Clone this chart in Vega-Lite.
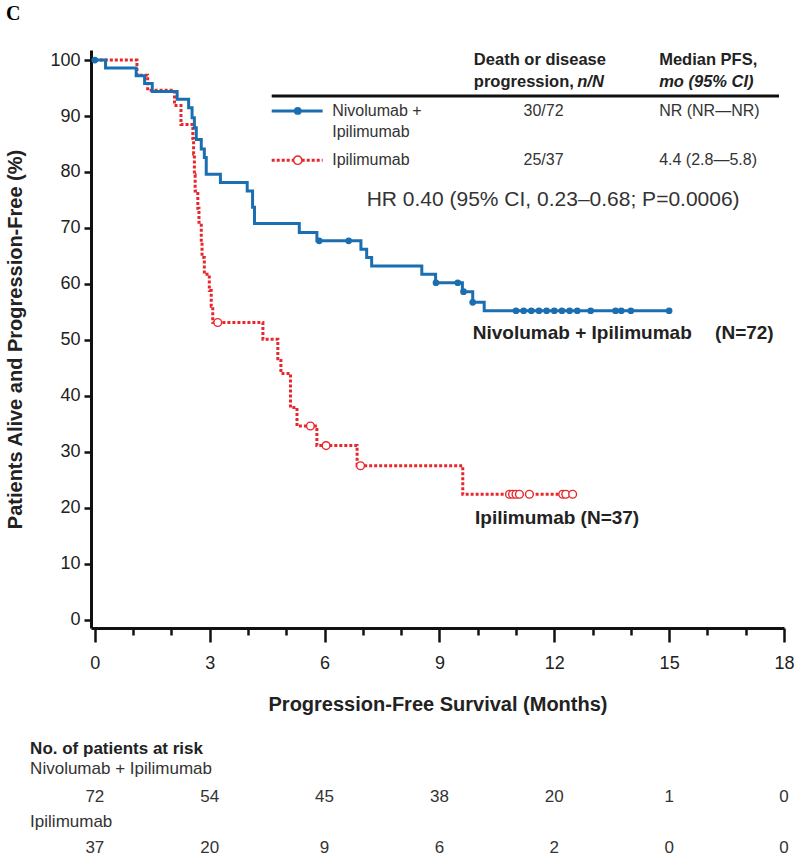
{
  "$schema": "https://vega.github.io/schema/vega-lite/v6.json",
  "background": "white",
  "padding": {"left": 5, "top": 4, "right": 2, "bottom": 2},
  "title": {"text": "C", "anchor": "start", "frame": "bounds", "font": "Liberation Serif", "fontSize": 20, "fontWeight": "bold", "color": "#000", "offset": 26},
  "config": {"view": {"stroke": null}, "font": "Liberation Sans"},
  "spacing": 26,
  "datasets": {
    "km": [
      {"arm": "Nivolumab + Ipilimumab", "t": 0, "s": 100},
      {"arm": "Nivolumab + Ipilimumab", "t": 0.28, "s": 98.6},
      {"arm": "Nivolumab + Ipilimumab", "t": 1.08, "s": 97.2},
      {"arm": "Nivolumab + Ipilimumab", "t": 1.30, "s": 95.8},
      {"arm": "Nivolumab + Ipilimumab", "t": 1.50, "s": 94.4},
      {"arm": "Nivolumab + Ipilimumab", "t": 2.15, "s": 93.0},
      {"arm": "Nivolumab + Ipilimumab", "t": 2.45, "s": 91.5},
      {"arm": "Nivolumab + Ipilimumab", "t": 2.54, "s": 89.7},
      {"arm": "Nivolumab + Ipilimumab", "t": 2.60, "s": 87.9},
      {"arm": "Nivolumab + Ipilimumab", "t": 2.65, "s": 85.8},
      {"arm": "Nivolumab + Ipilimumab", "t": 2.78, "s": 84.1},
      {"arm": "Nivolumab + Ipilimumab", "t": 2.86, "s": 82.6},
      {"arm": "Nivolumab + Ipilimumab", "t": 2.91, "s": 79.6},
      {"arm": "Nivolumab + Ipilimumab", "t": 3.28, "s": 78.1},
      {"arm": "Nivolumab + Ipilimumab", "t": 3.98, "s": 76.6},
      {"arm": "Nivolumab + Ipilimumab", "t": 4.12, "s": 73.7},
      {"arm": "Nivolumab + Ipilimumab", "t": 4.17, "s": 70.8},
      {"arm": "Nivolumab + Ipilimumab", "t": 5.34, "s": 69.2},
      {"arm": "Nivolumab + Ipilimumab", "t": 5.80, "s": 67.7},
      {"arm": "Nivolumab + Ipilimumab", "t": 6.95, "s": 66.2},
      {"arm": "Nivolumab + Ipilimumab", "t": 7.10, "s": 64.7},
      {"arm": "Nivolumab + Ipilimumab", "t": 7.23, "s": 63.2},
      {"arm": "Nivolumab + Ipilimumab", "t": 8.54, "s": 61.7},
      {"arm": "Nivolumab + Ipilimumab", "t": 8.90, "s": 60.2},
      {"arm": "Nivolumab + Ipilimumab", "t": 9.60, "s": 58.6},
      {"arm": "Nivolumab + Ipilimumab", "t": 9.87, "s": 56.7},
      {"arm": "Nivolumab + Ipilimumab", "t": 10.17, "s": 55.2},
      {"arm": "Nivolumab + Ipilimumab", "t": 15.0, "s": 55.2},
      {"arm": "Ipilimumab", "t": 0, "s": 100},
      {"arm": "Ipilimumab", "t": 1.10, "s": 97.3},
      {"arm": "Ipilimumab", "t": 1.38, "s": 94.6},
      {"arm": "Ipilimumab", "t": 2.08, "s": 91.9},
      {"arm": "Ipilimumab", "t": 2.25, "s": 88.5},
      {"arm": "Ipilimumab", "t": 2.56, "s": 86.0},
      {"arm": "Ipilimumab", "t": 2.58, "s": 83.2},
      {"arm": "Ipilimumab", "t": 2.60, "s": 79.5},
      {"arm": "Ipilimumab", "t": 2.62, "s": 76.6},
      {"arm": "Ipilimumab", "t": 2.69, "s": 73.5},
      {"arm": "Ipilimumab", "t": 2.72, "s": 71.0},
      {"arm": "Ipilimumab", "t": 2.78, "s": 67.5},
      {"arm": "Ipilimumab", "t": 2.80, "s": 64.7},
      {"arm": "Ipilimumab", "t": 2.86, "s": 61.7},
      {"arm": "Ipilimumab", "t": 2.99, "s": 58.8},
      {"arm": "Ipilimumab", "t": 3.04, "s": 56.0},
      {"arm": "Ipilimumab", "t": 3.08, "s": 53.1},
      {"arm": "Ipilimumab", "t": 4.39, "s": 50.1},
      {"arm": "Ipilimumab", "t": 4.78, "s": 46.6},
      {"arm": "Ipilimumab", "t": 4.86, "s": 44.0},
      {"arm": "Ipilimumab", "t": 5.11, "s": 37.9},
      {"arm": "Ipilimumab", "t": 5.28, "s": 34.6},
      {"arm": "Ipilimumab", "t": 5.80, "s": 31.1},
      {"arm": "Ipilimumab", "t": 6.85, "s": 27.5},
      {"arm": "Ipilimumab", "t": 9.61, "s": 22.4},
      {"arm": "Ipilimumab", "t": 12.48, "s": 22.4}
    ],
    "censor": [
      {"arm": "Nivolumab + Ipilimumab", "t": 0, "s": 100},
      {"arm": "Nivolumab + Ipilimumab", "t": 5.86, "s": 67.7},
      {"arm": "Nivolumab + Ipilimumab", "t": 6.63, "s": 67.7},
      {"arm": "Nivolumab + Ipilimumab", "t": 8.91, "s": 60.2},
      {"arm": "Nivolumab + Ipilimumab", "t": 9.48, "s": 60.2},
      {"arm": "Nivolumab + Ipilimumab", "t": 9.63, "s": 58.6},
      {"arm": "Nivolumab + Ipilimumab", "t": 9.87, "s": 56.7},
      {"arm": "Nivolumab + Ipilimumab", "t": 11.0, "s": 55.2},
      {"arm": "Nivolumab + Ipilimumab", "t": 11.2, "s": 55.2},
      {"arm": "Nivolumab + Ipilimumab", "t": 11.4, "s": 55.2},
      {"arm": "Nivolumab + Ipilimumab", "t": 11.6, "s": 55.2},
      {"arm": "Nivolumab + Ipilimumab", "t": 11.8, "s": 55.2},
      {"arm": "Nivolumab + Ipilimumab", "t": 12.0, "s": 55.2},
      {"arm": "Nivolumab + Ipilimumab", "t": 12.2, "s": 55.2},
      {"arm": "Nivolumab + Ipilimumab", "t": 12.4, "s": 55.2},
      {"arm": "Nivolumab + Ipilimumab", "t": 12.6, "s": 55.2},
      {"arm": "Nivolumab + Ipilimumab", "t": 12.95, "s": 55.2},
      {"arm": "Nivolumab + Ipilimumab", "t": 13.6, "s": 55.2},
      {"arm": "Nivolumab + Ipilimumab", "t": 13.75, "s": 55.2},
      {"arm": "Nivolumab + Ipilimumab", "t": 14.0, "s": 55.2},
      {"arm": "Nivolumab + Ipilimumab", "t": 15.0, "s": 55.2},
      {"arm": "Ipilimumab", "t": 3.21, "s": 53.1},
      {"arm": "Ipilimumab", "t": 5.63, "s": 34.6},
      {"arm": "Ipilimumab", "t": 6.04, "s": 31.1},
      {"arm": "Ipilimumab", "t": 6.94, "s": 27.5},
      {"arm": "Ipilimumab", "t": 10.83, "s": 22.4},
      {"arm": "Ipilimumab", "t": 10.91, "s": 22.4},
      {"arm": "Ipilimumab", "t": 11.0, "s": 22.4},
      {"arm": "Ipilimumab", "t": 11.09, "s": 22.4},
      {"arm": "Ipilimumab", "t": 11.35, "s": 22.4},
      {"arm": "Ipilimumab", "t": 12.22, "s": 22.4},
      {"arm": "Ipilimumab", "t": 12.3, "s": 22.4},
      {"arm": "Ipilimumab", "t": 12.48, "s": 22.4}
    ],
    "atrisk": [
      {"arm": "Nivolumab + Ipilimumab", "row": 1.94, "t": 0, "n": 72},
      {"arm": "Nivolumab + Ipilimumab", "row": 1.94, "t": 3, "n": 54},
      {"arm": "Nivolumab + Ipilimumab", "row": 1.94, "t": 6, "n": 45},
      {"arm": "Nivolumab + Ipilimumab", "row": 1.94, "t": 9, "n": 38},
      {"arm": "Nivolumab + Ipilimumab", "row": 1.94, "t": 12, "n": 20},
      {"arm": "Nivolumab + Ipilimumab", "row": 1.94, "t": 15, "n": 1},
      {"arm": "Nivolumab + Ipilimumab", "row": 1.94, "t": 18, "n": 0},
      {"arm": "Ipilimumab", "row": 4.0, "t": 0, "n": 37},
      {"arm": "Ipilimumab", "row": 4.0, "t": 3, "n": 20},
      {"arm": "Ipilimumab", "row": 4.0, "t": 6, "n": 9},
      {"arm": "Ipilimumab", "row": 4.0, "t": 9, "n": 6},
      {"arm": "Ipilimumab", "row": 4.0, "t": 12, "n": 2},
      {"arm": "Ipilimumab", "row": 4.0, "t": 15, "n": 0},
      {"arm": "Ipilimumab", "row": 4.0, "t": 18, "n": 0}
    ]
  },
  "vconcat": [
    {
      "width": 693,
      "height": 578,
      "encoding": {
        "x": {
          "field": "t", "type": "quantitative",
          "scale": {"domain": [-0.1, 18], "nice": false, "zero": false},
          "axis": {
            "title": "Progression-Free Survival (Months)",
            "values": [0,1,2,3,4,5,6,7,8,9,10,11,12,13,14,15,16,17,18],
            "labelExpr": "datum.value % 3 === 0 ? datum.label : ''",
            "labelOverlap": false,
            "labelFlush": false,
            "tickSize": {"condition": {"test": "datum.value % 3 === 0", "value": 14}, "value": 7},
            "tickWidth": 2.5, "tickColor": "#111",
            "domainColor": "#111", "domainWidth": 3,
            "labelFontSize": 18, "labelColor": "#222", "labelPadding": 12,
            "titleFontSize": 20, "titleFontWeight": "bold", "titleColor": "#222", "titlePadding": 22,
            "grid": false
          }
        },
        "y": {
          "field": "s", "type": "quantitative",
          "scale": {"domain": [-1.5, 101.8], "nice": false, "zero": false},
          "axis": {
            "title": "Patients Alive and Progression-Free (%)",
            "values": [0,10,20,30,40,50,60,70,80,90,100],
            "tickSize": 7, "tickWidth": 2.5, "tickColor": "#111",
            "domainColor": "#111", "domainWidth": 3,
            "labelFontSize": 18, "labelColor": "#222", "labelPadding": 4,
            "titleFontSize": 20, "titleFontWeight": "bold", "titleColor": "#222", "titlePadding": 24,
            "grid": false
          }
        }
      },
      "layer": [
        {
          "data": {"name": "km"},
          "transform": [{"filter": "datum.arm === 'Ipilimumab'"}],
          "mark": {"type": "line", "interpolate": "step-after", "color": "#e8262b", "strokeWidth": 3, "strokeDash": [3, 2]}
        },
        {
          "data": {"name": "km"},
          "transform": [{"filter": "datum.arm === 'Nivolumab + Ipilimumab'"}],
          "mark": {"type": "line", "interpolate": "step-after", "color": "#1b6fb0", "strokeWidth": 3}
        },
        {
          "data": {"name": "censor"},
          "transform": [{"filter": "datum.arm === 'Nivolumab + Ipilimumab'"}],
          "mark": {"type": "point", "shape": "circle", "filled": true, "color": "#1b6fb0", "size": 45, "opacity": 1}
        },
        {
          "data": {"name": "censor"},
          "transform": [{"filter": "datum.arm === 'Ipilimumab'"}],
          "mark": {"type": "point", "shape": "circle", "filled": false, "stroke": "#e8262b", "fill": "white", "fillOpacity": 1, "strokeWidth": 1.4, "size": 60, "opacity": 1}
        },
        {
          "data": {"values": [{"t": 4.62, "t2": 17.87, "s": 93.6}]},
          "mark": {"type": "rule", "color": "#111", "strokeWidth": 3},
          "encoding": {"x2": {"field": "t2"}}
        },
        {
          "data": {"values": [{"t": 4.62, "t2": 5.95, "s": 90.9}]},
          "mark": {"type": "rule", "color": "#1b6fb0", "strokeWidth": 3},
          "encoding": {"x2": {"field": "t2"}}
        },
        {
          "data": {"values": [{"t": 4.62, "t2": 5.95, "s": 82.1}]},
          "mark": {"type": "rule", "color": "#e8262b", "strokeWidth": 3, "strokeDash": [3, 2]},
          "encoding": {"x2": {"field": "t2"}}
        },
        {
          "data": {"values": [{"t": 5.3, "s": 90.9}]},
          "mark": {"type": "point", "shape": "circle", "filled": true, "color": "#1b6fb0", "size": 60, "opacity": 1}
        },
        {
          "data": {"values": [{"t": 5.3, "s": 82.1}]},
          "mark": {"type": "point", "shape": "circle", "filled": false, "stroke": "#e8262b", "fill": "white", "fillOpacity": 1, "strokeWidth": 1.4, "size": 70, "opacity": 1}
        },
        {
          "data": {"values": [
            {"t": 9.9, "s": 100.0, "label": "Death or disease"},
            {"t": 9.9, "s": 96.1, "label": "progression,"},
            {"t": 14.74, "s": 100.0, "label": "Median PFS,"}
          ]},
          "mark": {"type": "text", "align": "left", "baseline": "middle", "fontSize": 16.5, "fontWeight": "bold", "color": "#222"},
          "encoding": {"text": {"field": "label"}}
        },
        {
          "data": {"values": [
            {"t": 12.6, "s": 96.1, "label": "n/N"},
            {"t": 14.74, "s": 96.1, "label": "mo (95% CI)"}
          ]},
          "mark": {"type": "text", "align": "left", "baseline": "middle", "fontSize": 16.5, "fontWeight": "bold", "fontStyle": "italic", "color": "#222"},
          "encoding": {"text": {"field": "label"}}
        },
        {
          "data": {"values": [
            {"t": 6.2, "s": 90.9, "label": "Nivolumab +"},
            {"t": 6.2, "s": 87.1, "label": "Ipilimumab"},
            {"t": 6.2, "s": 82.1, "label": "Ipilimumab"},
            {"t": 14.74, "s": 90.9, "label": "NR (NR—NR)"},
            {"t": 14.74, "s": 82.1, "label": "4.4 (2.8—5.8)"}
          ]},
          "mark": {"type": "text", "align": "left", "baseline": "middle", "fontSize": 16, "color": "#333"},
          "encoding": {"text": {"field": "label"}}
        },
        {
          "data": {"values": [
            {"t": 11.72, "s": 90.9, "label": "30/72"},
            {"t": 11.72, "s": 82.1, "label": "25/37"}
          ]},
          "mark": {"type": "text", "align": "center", "baseline": "middle", "fontSize": 16, "color": "#333"},
          "encoding": {"text": {"field": "label"}}
        },
        {
          "data": {"values": [
            {"t": 11.97, "s": 75.0, "label": "HR 0.40 (95% CI, 0.23–0.68; P=0.0006)"}
          ]},
          "mark": {"type": "text", "align": "center", "baseline": "middle", "fontSize": 21, "color": "#333"},
          "encoding": {"text": {"field": "label"}}
        },
        {
          "data": {"values": [
            {"t": 9.87, "s": 51.25, "label": "Nivolumab + Ipilimumab"},
            {"t": 16.2, "s": 51.25, "label": "(N=72)"},
            {"t": 9.93, "s": 18.2, "label": "Ipilimumab (N=37)"}
          ]},
          "mark": {"type": "text", "align": "left", "baseline": "middle", "fontSize": 19, "fontWeight": "bold", "color": "#222"},
          "encoding": {"text": {"field": "label"}}
        }
      ]
    },
    {
      "width": 693,
      "height": 99,
      "encoding": {
        "x": {"field": "t", "type": "quantitative", "scale": {"domain": [-0.1, 18], "nice": false, "zero": false}, "axis": null},
        "y": {"field": "row", "type": "quantitative", "scale": {"domain": [0, 4.0], "reverse": true, "nice": false, "zero": false}, "axis": null}
      },
      "layer": [
        {
          "data": {"values": [{"t": -1.69, "row": 0, "label": "No. of patients at risk"}]},
          "mark": {"type": "text", "align": "left", "baseline": "middle", "fontSize": 17, "fontWeight": "bold", "color": "#222"},
          "encoding": {"text": {"field": "label"}}
        },
        {
          "data": {"values": [
            {"t": -1.69, "row": 0.8, "label": "Nivolumab + Ipilimumab"},
            {"t": -1.69, "row": 2.96, "label": "Ipilimumab"}
          ]},
          "mark": {"type": "text", "align": "left", "baseline": "middle", "fontSize": 17, "color": "#333"},
          "encoding": {"text": {"field": "label"}}
        },
        {
          "data": {"name": "atrisk"},
          "mark": {"type": "text", "align": "center", "baseline": "middle", "fontSize": 17, "color": "#333"},
          "encoding": {"text": {"field": "n", "type": "quantitative"}}
        }
      ]
    }
  ]
}
